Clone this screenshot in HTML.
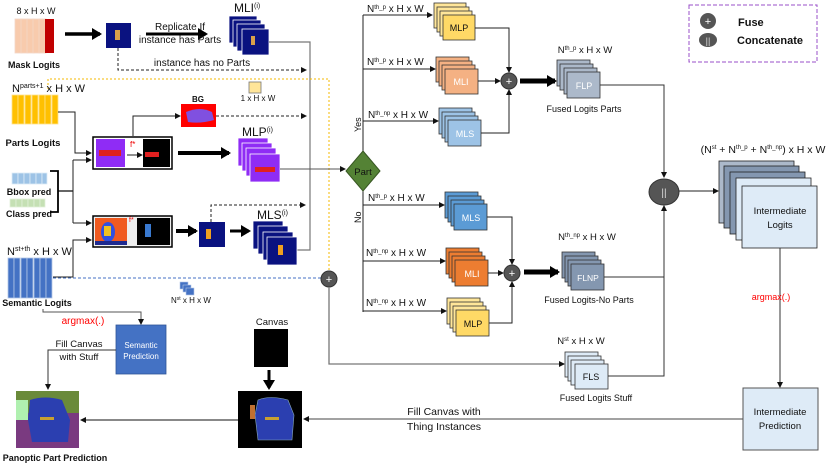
<!DOCTYPE html>
<html><head><meta charset="utf-8"><style>
html,body{margin:0;padding:0;background:#fff}
svg{display:block}
text{font-family:"Liberation Sans",sans-serif;font-size:10px;fill:#111}
.b{font-weight:bold}
.c{text-anchor:middle}
</style></head><body>
<svg width="830" height="467" viewBox="0 0 830 467" xmlns="http://www.w3.org/2000/svg">
<defs>
<marker id="a" markerWidth="6" markerHeight="6" refX="5" refY="3" orient="auto" markerUnits="userSpaceOnUse"><path d="M0,0 L6,3 L0,6 z" fill="#111"/></marker>
<marker id="A" markerWidth="10" markerHeight="12" refX="8" refY="6" orient="auto" markerUnits="userSpaceOnUse"><path d="M0,0 L10,6 L0,12 z" fill="#000"/></marker>
</defs>

<text x="36" y="14" class="c" style="font-size:9px">8 x H x W</text>
<g stroke="#f4d6c6" stroke-width="0.8">
<rect x="15" y="19" width="7" height="34" fill="#f8cbad"/><rect x="21" y="19" width="7" height="34" fill="#f8cbad"/><rect x="27" y="19" width="7" height="34" fill="#f8cbad"/><rect x="33" y="19" width="7" height="34" fill="#f8cbad"/><rect x="39" y="19" width="7" height="34" fill="#f8cbad"/>
</g>
<rect x="45" y="19" width="9" height="34" fill="#c00000"/>
<text x="34" y="68" class="c b" style="font-size:9px">Mask Logits</text>
<line x1="65" y1="34" x2="100" y2="34" stroke="#000" stroke-width="3.5" marker-end="url(#A)"/>
<rect x="106" y="23" width="25" height="25" fill="#0a1280"/>
<rect x="115" y="30" width="5" height="10" fill="#d9a04a"/>
<line x1="146" y1="34" x2="206" y2="34" stroke="#000" stroke-width="3" marker-end="url(#A)"/>
<text x="180" y="30" class="c">Replicate If</text>
<text x="180" y="43" class="c">instance has Parts</text>
<g fill="#0a1280" stroke="#fff" stroke-width="0.8">
<rect x="229" y="16" width="28" height="27"/><rect x="233" y="20" width="28" height="27"/><rect x="237" y="24" width="28" height="27"/><rect x="242" y="29" width="27" height="26"/>
</g>
<rect x="251" y="36" width="4" height="9" fill="#d9a04a"/>
<text x="234" y="12" style="font-size:12px">MLI<tspan dy="-4" style="font-size:7px">(i)</tspan></text>
<path d="M118,48 V70 H306" fill="none" stroke="#222" stroke-dasharray="3,2" marker-end="url(#a)"/>
<text x="202" y="66" class="c">instance has no Parts</text>
<path d="M269,42 H310 V250 H297" fill="none" stroke="#777" stroke-width="1.2"/>

<path d="M48,89 V79 H329 V271" fill="none" stroke="#f5b800" stroke-dasharray="2,2" stroke-width="1"/>
<rect x="249" y="82" width="12" height="11" fill="#ffe599" stroke="#777" stroke-width="0.8"/>
<text x="258" y="101" class="c" style="font-size:8px">1 x H x W</text>

<text x="12" y="92" style="font-size:11px">N<tspan dy="-4" style="font-size:7px">parts+1</tspan><tspan dy="4"> x H x W</tspan></text>
<g fill="#ffc000" stroke="#ffe28a" stroke-width="0.8">
<rect x="12" y="95" width="6" height="29"/><rect x="18" y="95" width="6" height="29"/><rect x="25" y="95" width="6" height="29"/><rect x="32" y="95" width="6" height="29"/><rect x="39" y="95" width="6" height="29"/><rect x="45" y="95" width="6" height="29"/><rect x="52" y="95" width="6" height="29"/>
</g>
<text x="33" y="146" class="c b" style="font-size:9.5px">Parts Logits</text>
<path d="M58,112 H75 V153 H91" fill="none" stroke="#222" marker-end="url(#a)"/>

<text x="198" y="102" class="c b" style="font-size:8px">BG</text>
<rect x="181" y="104" width="35" height="23" fill="#f00"/>
<path d="M186,112 Q200,106 212,112 L214,120 Q200,124 188,122 Z" fill="#8050e0"/>
<path d="M133,136 V116 H180" fill="none" stroke="#222" marker-end="url(#a)"/>
<line x1="216" y1="116" x2="306" y2="116" stroke="#222" stroke-dasharray="3,2" marker-end="url(#a)"/>

<rect x="93" y="137" width="79" height="32" fill="#fff" stroke="#000" stroke-width="1.5"/>
<rect x="96" y="139" width="29" height="28" fill="#8f2cf5"/>
<path d="M99,150 h22 v6 h-22z" fill="#e02020"/>
<text x="130" y="147" style="font-size:8px;fill:#e00">f*</text>
<line x1="127" y1="155" x2="142" y2="155" stroke="#222" marker-end="url(#a)"/>
<rect x="143" y="139" width="27" height="28" fill="#000"/>
<path d="M145,152 h14 v5 h-14z" fill="#e02020"/>
<line x1="178" y1="153" x2="229" y2="153" stroke="#000" stroke-width="4" marker-end="url(#A)"/>
<g fill="#8f2cf5" stroke="#fff" stroke-width="0.8">
<rect x="238" y="138" width="30" height="28"/><rect x="242" y="143" width="30" height="28"/><rect x="246" y="148" width="30" height="28"/><rect x="250" y="154" width="30" height="28"/>
</g>
<path d="M255,167 h20 v5 h-20z" fill="#e02020"/>
<text x="242" y="136" style="font-size:12px">MLP<tspan dy="-4" style="font-size:7px">(i)</tspan></text>
<line x1="280" y1="169" x2="345" y2="169" stroke="#555" stroke-width="1" marker-end="url(#a)"/>

<g fill="#9dc3e6" stroke="#ddebf7" stroke-width="0.8"><rect x="12" y="173" width="6" height="11"/><rect x="18" y="173" width="6" height="11"/><rect x="24" y="173" width="6" height="11"/><rect x="30" y="173" width="6" height="11"/><rect x="36" y="173" width="6" height="11"/><rect x="42" y="173" width="5" height="11"/></g>
<text x="29" y="195" class="c b" style="font-size:9px">Bbox pred</text>
<g fill="#c5e0b4" stroke="#e2f0d9" stroke-width="0.8"><rect x="10" y="199" width="6" height="8"/><rect x="16" y="199" width="6" height="8"/><rect x="22" y="199" width="6" height="8"/><rect x="28" y="199" width="6" height="8"/><rect x="34" y="199" width="6" height="8"/><rect x="40" y="199" width="5" height="8"/></g>
<text x="29" y="217" class="c b" style="font-size:9px">Class pred</text>
<path d="M50,171 H58 V212 H50" fill="none" stroke="#000" stroke-width="1.8"/>
<path d="M58,191 H73" stroke="#000" stroke-width="1.2"/>
<path d="M73,160 V223" stroke="#222" stroke-width="1"/>
<path d="M73,160 H91" fill="none" stroke="#222" marker-end="url(#a)"/>
<path d="M73,223 H91" fill="none" stroke="#222" marker-end="url(#a)"/>

<rect x="93" y="216" width="79" height="31" fill="#eee" stroke="#000" stroke-width="1.5"/>
<rect x="95" y="218" width="32" height="27" fill="#f05a20"/>
<ellipse cx="108" cy="232" rx="7" ry="10" fill="#3050e0"/>
<rect x="104" y="226" width="7" height="10" fill="#f0c020"/>
<rect x="95" y="241" width="32" height="4" fill="#1e2a90"/>
<text x="129" y="222" style="font-size:7px;fill:#e00">f*</text>
<rect x="137" y="218" width="33" height="27" fill="#000"/>
<rect x="145" y="224" width="6" height="13" fill="#3a7ad0"/>
<line x1="176" y1="231" x2="196" y2="231" stroke="#000" stroke-width="4" marker-end="url(#A)"/>
<rect x="199" y="222" width="26" height="25" fill="#0a1280"/>
<rect x="206" y="229" width="5" height="10" fill="#f0a020"/>
<line x1="230" y1="231" x2="249" y2="231" stroke="#000" stroke-width="3" marker-end="url(#A)"/>
<g fill="#0a1280" stroke="#fff" stroke-width="0.8">
<rect x="253" y="221" width="30" height="28"/><rect x="258" y="226" width="30" height="28"/><rect x="263" y="232" width="30" height="28"/><rect x="267" y="237" width="30" height="28"/>
</g>
<rect x="278" y="245" width="5" height="10" fill="#f0a020"/>
<text x="257" y="219" style="font-size:12px">MLS<tspan dy="-4" style="font-size:7px">(i)</tspan></text>
<path d="M211,222 V205 H305" fill="none" stroke="#222" stroke-dasharray="3,2" marker-end="url(#a)"/>

<text x="7" y="255" style="font-size:11px">N<tspan dy="-4" style="font-size:7px">st+th</tspan><tspan dy="4"> x H x W</tspan></text>
<g fill="#4472c4" stroke="#b4c7e7" stroke-width="0.8">
<rect x="8" y="258" width="6" height="40"/><rect x="14" y="258" width="6" height="40"/><rect x="21" y="258" width="6" height="40"/><rect x="27" y="258" width="6" height="40"/><rect x="34" y="258" width="6" height="40"/><rect x="40" y="258" width="6" height="40"/><rect x="46" y="258" width="6" height="40"/>
</g>
<text x="37" y="306" class="c b" style="font-size:9px">Semantic Logits</text>
<path d="M53,277 H73 V240 H91" fill="none" stroke="#222" marker-end="url(#a)"/>
<line x1="53" y1="278" x2="321" y2="278" stroke="#4472c4" stroke-dasharray="3,2"/>
<g fill="#4472c4" stroke="#b4c7e7" stroke-width="0.6"><rect x="180" y="282" width="8" height="7"/><rect x="183" y="285" width="8" height="7"/><rect x="186" y="288" width="8" height="7"/></g>
<text x="171" y="303" style="font-size:8px">N<tspan dy="-3" style="font-size:5px">st</tspan><tspan dy="3"> x H x W</tspan></text>

<circle cx="329" cy="279" r="8" fill="#555" stroke="#333"/>
<text x="329" y="283" class="c" style="font-size:11px;fill:#fff">+</text>
<path d="M329,287 V364 H564" fill="none" stroke="#777" stroke-width="1.3" marker-end="url(#a)"/>

<path d="M43,309 V312 H141 V324" fill="none" stroke="#555" marker-end="url(#a)"/>
<text x="83" y="324" class="c" style="fill:#f00">argmax(.)</text>
<rect x="116" y="325" width="50" height="49" fill="#4472c4" stroke="#2f5597" stroke-width="0.8"/>
<text x="141" y="348" class="c" style="font-size:8px;fill:#fff">Semantic</text>
<text x="141" y="359" class="c" style="font-size:8px;fill:#fff">Prediction</text>
<path d="M116,350 H48 V389" fill="none" stroke="#333" marker-end="url(#a)"/>
<text x="79" y="347" class="c" style="font-size:9.5px">Fill Canvas</text>
<text x="79" y="360" class="c" style="font-size:9.5px">with Stuff</text>

<rect x="16" y="391" width="63" height="57" fill="#7a3a80"/>
<rect x="16" y="391" width="63" height="22" fill="#6a8a3a"/>
<rect x="16" y="400" width="12" height="20" fill="#b0f0b0"/>
<path d="M30,400 Q45,395 62,400 L70,420 L68,442 L32,442 L28,420 Z" fill="#2b3fb0"/>
<rect x="40" y="417" width="14" height="3" fill="#c8a030"/>
<text x="55" y="461" class="c b" style="font-size:9px">Panoptic Part Prediction</text>

<text x="272" y="325" class="c" style="font-size:9.5px">Canvas</text>
<rect x="254" y="329" width="34" height="38" fill="#000"/>
<line x1="269" y1="370" x2="269" y2="388" stroke="#000" stroke-width="3" marker-end="url(#A)"/>
<rect x="238" y="391" width="64" height="57" fill="#000"/>
<path d="M258,400 Q270,395 288,400 L294,415 L292,440 L258,440 L255,415 Z" fill="#2b3fb0" stroke="#8ab" stroke-width="0.6"/>
<rect x="265" y="417" width="14" height="3" fill="#c8a030"/>
<rect x="250" y="405" width="5" height="14" fill="#c07030"/>
<line x1="238" y1="420" x2="81" y2="420" stroke="#111" marker-end="url(#a)"/>
<line x1="743" y1="419" x2="304" y2="419" stroke="#444" marker-end="url(#a)"/>
<text x="444" y="415" class="c" style="font-size:10.5px">Fill Canvas with</text>
<text x="444" y="430" class="c" style="font-size:10.5px">Thing Instances</text>

<path d="M363,15 V151 M363,191 V312" stroke="#222" stroke-width="1"/>
<polygon points="363,151 380,171 363,191 346,171" fill="#548235" stroke="#385723"/>
<text x="363" y="175" class="c" style="font-size:9.5px">Part</text>
<text x="0" y="0" transform="translate(361,132) rotate(-90)" style="font-size:9px">Yes</text>
<text x="0" y="0" transform="translate(361,223) rotate(-90)" style="font-size:9px">No</text>

<g style="font-size:9.5px">
<text x="367" y="12">N<tspan dy="-3" style="font-size:6px">th_p</tspan><tspan dy="3"> x H x W</tspan></text>
<text x="367" y="65">N<tspan dy="-3" style="font-size:6px">th_p</tspan><tspan dy="3"> x H x W</tspan></text>
<text x="368" y="118">N<tspan dy="-3" style="font-size:6px">th_np</tspan><tspan dy="3"> x H x W</tspan></text>
<text x="368" y="201">N<tspan dy="-3" style="font-size:6px">th_p</tspan><tspan dy="3"> x H x W</tspan></text>
<text x="366" y="256">N<tspan dy="-3" style="font-size:6px">th_np</tspan><tspan dy="3"> x H x W</tspan></text>
<text x="366" y="306">N<tspan dy="-3" style="font-size:6px">th_np</tspan><tspan dy="3"> x H x W</tspan></text>
</g>
<g fill="none" stroke="#222" stroke-width="1">
<path d="M363,15 H432" marker-end="url(#a)"/>
<path d="M363,69 H435" marker-end="url(#a)"/>
<path d="M363,121 H438" marker-end="url(#a)"/>
<path d="M363,205 H444" marker-end="url(#a)"/>
<path d="M363,261 H445" marker-end="url(#a)"/>
<path d="M363,311 H446" marker-end="url(#a)"/>
</g>

<g stroke="#333" stroke-width="0.8" fill="#ffe699">
<rect x="434" y="3" width="32" height="25"/><rect x="437" y="7" width="32" height="25"/><rect x="440" y="11" width="32" height="25"/><rect x="443" y="15" width="32" height="25" fill="#ffd966"/>
</g>
<text x="459" y="31" class="c" style="font-size:9px">MLP</text>
<g stroke="#333" stroke-width="0.8" fill="#f4b183">
<rect x="436" y="57" width="33" height="25"/><rect x="439" y="61" width="33" height="25"/><rect x="442" y="65" width="33" height="25"/><rect x="445" y="69" width="33" height="25"/>
</g>
<text x="461" y="85" class="c" style="font-size:9px;fill:#fff">MLI</text>
<g stroke="#333" stroke-width="0.8" fill="#9dc3e6">
<rect x="439" y="108" width="33" height="26"/><rect x="442" y="112" width="33" height="26"/><rect x="445" y="116" width="33" height="26"/><rect x="448" y="120" width="33" height="26"/>
</g>
<text x="465" y="137" class="c" style="font-size:9px;fill:#fff">MLS</text>
<path d="M475,28 H509 V72 M478,81 H500 M481,133 H509 V90" fill="none" stroke="#222"/>
<path d="M509,60 V72" marker-end="url(#a)" stroke="#222"/>
<path d="M490,81 H500" marker-end="url(#a)" stroke="#222"/>
<path d="M509,100 V90" marker-end="url(#a)" stroke="#222"/>
<circle cx="509" cy="81" r="8" fill="#555" stroke="#333"/>
<text x="509" y="85" class="c" style="font-size:11px;fill:#fff">+</text>
<line x1="520" y1="81" x2="555" y2="81" stroke="#000" stroke-width="5" marker-end="url(#A)"/>
<text x="585" y="53" class="c" style="font-size:9.5px">N<tspan dy="-3" style="font-size:6px">th_p</tspan><tspan dy="3"> x H x W</tspan></text>
<g stroke="#333" stroke-width="0.8" fill="#acb9ca">
<rect x="557" y="60" width="33" height="26"/><rect x="560" y="64" width="33" height="26"/><rect x="564" y="68" width="33" height="26"/><rect x="567" y="72" width="33" height="26"/>
</g>
<text x="584" y="89" class="c" style="font-size:9px;fill:#fff">FLP</text>
<text x="584" y="112" class="c" style="font-size:9px">Fused Logits Parts</text>
<path d="M600,85 H664 V177" fill="none" stroke="#333" marker-end="url(#a)"/>

<g stroke="#333" stroke-width="0.8" fill="#5b9bd5">
<rect x="445" y="192" width="33" height="26"/><rect x="448" y="196" width="33" height="26"/><rect x="451" y="200" width="33" height="26"/><rect x="454" y="204" width="33" height="26"/>
</g>
<text x="471" y="221" class="c" style="font-size:9px;fill:#fff">MLS</text>
<g stroke="#333" stroke-width="0.8" fill="#ed7d31">
<rect x="446" y="248" width="33" height="26"/><rect x="449" y="252" width="33" height="26"/><rect x="452" y="256" width="33" height="26"/><rect x="455" y="260" width="33" height="26"/>
</g>
<text x="472" y="277" class="c" style="font-size:9px;fill:#fff">MLI</text>
<g stroke="#333" stroke-width="0.8" fill="#ffe699">
<rect x="447" y="298" width="33" height="26"/><rect x="450" y="302" width="33" height="26"/><rect x="453" y="306" width="33" height="26"/><rect x="456" y="310" width="33" height="26" fill="#ffd966"/>
</g>
<text x="473" y="327" class="c" style="font-size:9px">MLP</text>
<path d="M487,217 H512 V264 M489,323 H512 V282" fill="none" stroke="#222"/>
<path d="M512,255 V264" marker-end="url(#a)" stroke="#222"/>
<path d="M512,292 V282" marker-end="url(#a)" stroke="#222"/>
<path d="M488,273 H503" marker-end="url(#a)" stroke="#222"/>
<circle cx="512" cy="273" r="8" fill="#555" stroke="#333"/>
<text x="512" y="277" class="c" style="font-size:11px;fill:#fff">+</text>
<line x1="524" y1="272" x2="558" y2="272" stroke="#000" stroke-width="5" marker-end="url(#A)"/>
<text x="587" y="240" class="c" style="font-size:9.5px">N<tspan dy="-3" style="font-size:6px">th_np</tspan><tspan dy="3"> x H x W</tspan></text>
<g stroke="#333" stroke-width="0.8" fill="#8497b0">
<rect x="562" y="252" width="33" height="26"/><rect x="565" y="256" width="33" height="26"/><rect x="568" y="260" width="33" height="26"/><rect x="571" y="264" width="33" height="26"/>
</g>
<text x="588" y="281" class="c" style="font-size:8.5px;fill:#fff">FLNP</text>
<text x="589" y="303" class="c" style="font-size:9px">Fused Logits-No Parts</text>
<path d="M604,277 H664" fill="none" stroke="#333"/>
<text x="581" y="344" class="c" style="font-size:9.5px">N<tspan dy="-3" style="font-size:6px">st</tspan><tspan dy="3"> x H x W</tspan></text>
<g stroke="#333" stroke-width="0.8" fill="#deebf7">
<rect x="565" y="352" width="33" height="25"/><rect x="568" y="356" width="33" height="25"/><rect x="571" y="360" width="33" height="25"/><rect x="575" y="364" width="33" height="25"/>
</g>
<text x="591" y="380" class="c" style="font-size:9px">FLS</text>
<text x="596" y="401" class="c" style="font-size:9px">Fused Logits Stuff</text>
<path d="M608,376 H664 V206" fill="none" stroke="#333" marker-end="url(#a)"/>

<ellipse cx="664" cy="192" rx="15" ry="13" fill="#555" stroke="#333"/>
<text x="664" y="196" class="c" style="font-size:10px;fill:#ddd">||</text>
<line x1="679" y1="191" x2="718" y2="191" stroke="#222" marker-end="url(#a)"/>
<text x="763" y="153" class="c" style="font-size:10.5px">(N<tspan dy="-4" style="font-size:6px">st</tspan><tspan dy="4"> + N</tspan><tspan dy="-4" style="font-size:6px">th_p</tspan><tspan dy="4"> + N</tspan><tspan dy="-4" style="font-size:6px">th_np</tspan><tspan dy="4">) x H x W</tspan></text>
<g stroke="#222" stroke-width="0.8">
<rect x="719" y="161" width="75" height="62" fill="#acb9ca"/>
<rect x="724" y="166" width="75" height="62" fill="#8497b0"/>
<rect x="730" y="172" width="75" height="62" fill="#8497b0"/>
<rect x="736" y="178" width="75" height="62" fill="#deebf7"/>
<rect x="742" y="186" width="75" height="62" fill="#deebf7"/>
</g>
<text x="780" y="214" class="c" style="font-size:9.5px">Intermediate</text>
<text x="780" y="228" class="c" style="font-size:9.5px">Logits</text>
<line x1="780" y1="248" x2="780" y2="387" stroke="#333" marker-end="url(#a)"/>
<text x="771" y="300" class="c" style="fill:#f00;font-size:9px">argmax(.)</text>
<rect x="743" y="388" width="75" height="62" fill="#deebf7" stroke="#555" stroke-width="1"/>
<text x="780" y="415" class="c" style="font-size:9.5px">Intermediate</text>
<text x="780" y="429" class="c" style="font-size:9.5px">Prediction</text>

<rect x="689" y="5" width="128" height="57" fill="none" stroke="#9a4fc8" stroke-dasharray="4,2"/>
<circle cx="708" cy="21" r="8" fill="#555"/>
<text x="708" y="25" class="c" style="font-size:11px;fill:#fff">+</text>
<ellipse cx="708" cy="40" rx="9" ry="7" fill="#555"/>
<text x="708" y="44" class="c" style="font-size:9px;fill:#ddd">||</text>
<text x="738" y="26" class="b" style="font-size:11px">Fuse</text>
<text x="737" y="44" class="b" style="font-size:11px">Concatenate</text>
</svg>
</body></html>
